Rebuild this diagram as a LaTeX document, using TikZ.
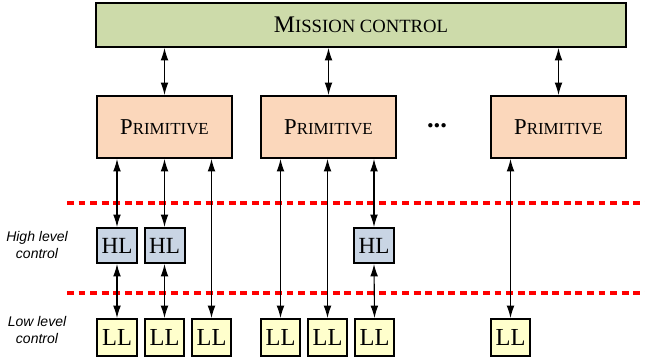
\documentclass[tikz,border=0pt]{standalone}
\usepackage{fontspec}
\setmainfont{Liberation Serif}
\newfontfamily\levelfont{Liberation Sans}
\usetikzlibrary{arrows.meta}
\usetikzlibrary{positioning}
\definecolor{missiongreen}{RGB}{205,219,170}
\definecolor{primpeach}{RGB}{251,215,187}
\definecolor{hlblue}{RGB}{201,213,228}
\definecolor{llyellow}{RGB}{255,255,204}
% big first letter, the rest as small capitals
\newcommand{\capsname}[4]{{\fontsize{#1}{#1}\selectfont #3}{\fontsize{#2}{#2}\selectfont #4}}
\tikzstyle{block}=[draw=black,line width=0.9pt,inner sep=0pt]
\tikzstyle{mission}=[block,fill=missiongreen,minimum width=238.5pt,minimum height=19.8pt]
\tikzstyle{primitive}=[block,fill=primpeach,minimum width=60.75pt,minimum height=27.9pt]
\tikzstyle{hlbox}=[block,fill=hlblue,minimum width=18pt,minimum height=15.75pt,font=\fontsize{10.4}{12}\selectfont]
\tikzstyle{llbox}=[block,fill=llyellow,minimum width=17.6pt,minimum height=16.6pt,font=\fontsize{11}{12}\selectfont]
\tikzstyle{link}=[{Latex[length=5.6pt,width=3.5pt]}-{Latex[length=5.6pt,width=3.5pt]},line width=0.5pt]
\tikzstyle{levelsep}=[red,line width=1.5pt,dash pattern=on 3.1pt off 2.1pt]
\tikzstyle{levellabel}=[font=\levelfont\itshape\fontsize{6.3}{7.6}\selectfont,align=center]

\begin{document}
\begin{tikzpicture}[x=0.45pt, y=-0.45pt]

  \useasboundingbox (0,0) rectangle (645,360);

  % separators between the control levels
  \draw[levelsep] (67,203) -- (645,203);
  \draw[levelsep] (67,293) -- (645,293);

  \node[mission] (mc) at (361,25) {\capsname{10.7}{8.4}{M}{ISSION CONTROL}};

  \foreach \pos/\name in {{(164.5,127)/p1}, {(328.5,127)/p2}, {(558.5,127)/p3}}
      \node[primitive] (\name) at \pos {\capsname{10.2}{7.6}{P}{RIMITIVE}};

  \node[font=\large\bfseries] (dots) at (437,126) {...};

  \foreach \pos/\name in {{(117,245.5)/h1}, {(164.5,245.5)/h2}, {(374,245.5)/h3}}
      \node[hlbox] (\name) at \pos {HL};

  \foreach \pos/\name in {{(117,337.5)/l1}, {(164.5,337.5)/l2}, {(211.5,337.5)/l3}, {(280.5,337.5)/l4}, {(327.5,337.5)/l5}, {(374.5,337.5)/l6}, {(510.5,337.5)/l7}}
      \node[llbox] (\name) at \pos {LL};

  \node[levellabel] (hlc) at (37,245) {High level\\control};
  \node[levellabel] (llc) at (37,330) {Low level\\control};

  % mission control <-> primitives
  \foreach \dest in {p1, p2, p3}
      \draw[link] (\dest.north |- mc.south) -- (\dest.north);

  % primitives <-> controllers
  \foreach \source/\dest in {p1/h1, p1/h2, p1/l3, p2/l4, p2/l5, p2/h3, p3/l7}
      \draw[link] (\dest.north |- \source.south) -- (\dest.north);

  % high level <-> low level
  \foreach \source/\dest in {h1/l1, h2/l2, h3/l6}
      \draw[link] (\source.south) -- (\dest.north);

\end{tikzpicture}
\end{document}
